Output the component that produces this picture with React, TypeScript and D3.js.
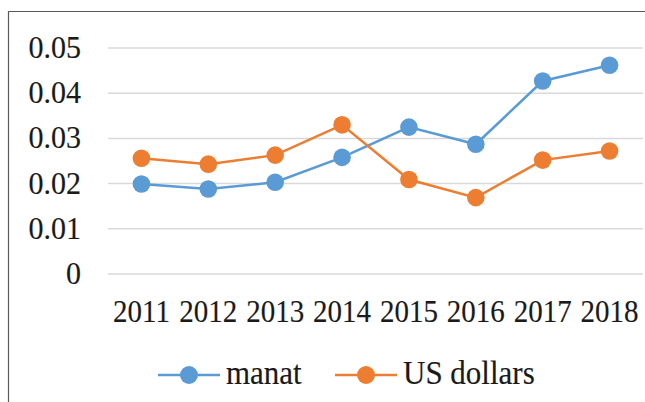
import React from 'react';
import * as d3 from 'd3';

const years = ['2011', '2012', '2013', '2014', '2015', '2016', '2017', '2018'];
const manat = [0.0199, 0.0188, 0.0203, 0.0258, 0.0325, 0.0287, 0.0427, 0.0462];
const usDollars = [0.0256, 0.0243, 0.0263, 0.033, 0.0209, 0.0169, 0.0252, 0.0272];
const yTicks = [0, 0.01, 0.02, 0.03, 0.04, 0.05];
const seriesNames = ['manat', 'US dollars'];

const width = 645;
const height = 402;
const plot = { left: 108, right: 643, top: 48, bottom: 274 };
const colors = ['#5B9BD5', '#ED7D31'];
const font = 'Liberation Serif, Times New Roman, serif';

// текст, слегка вытянутый по вертикали, как в оригинале
const Label = ({ x, y, size, anchor = 'start', sy = 1.08, children }: any) => (
  <text
    transform={`translate(${x},${y}) scale(1,${sy})`}
    textAnchor={anchor}
    fontFamily={font}
    fontSize={size}
    fill="#1a1a1a"
    stroke="#1a1a1a"
    strokeWidth={0.15}
  >
    {children}
  </text>
);

const App = () => {
  const x = d3.scaleBand<string>().domain(years).range([plot.left, plot.right]);
  const cx = (d: string) => (x(d) ?? 0) + x.bandwidth() / 2;
  const y = d3.scaleLinear().domain([0, 0.05]).range([plot.bottom, plot.top]);

  const line = d3
    .line<number>()
    .x((_, i) => cx(years[i]))
    .y(d => y(d));

  const series = [manat, usDollars];

  // легенда
  const legendItems = [
    { x0: 158, tx: 226 },
    { x0: 335, tx: 403 },
  ];

  return (
    <svg
      width={width}
      height={height}
      style={{ position: 'absolute', left: 0, top: 0, background: '#fff' }}
    >
      {/* рамка */}
      <line x1={8.5} y1={11} x2={8.5} y2={height} stroke="#595959" strokeWidth={1.2} />
      <line x1={8} y1={11.5} x2={width} y2={11.5} stroke="#595959" strokeWidth={1.2} />

      {yTicks.map(t => (
        <g key={t}>
          <line x1={plot.left} x2={plot.right} y1={y(t)} y2={y(t)} stroke="#D9D9D9" strokeWidth={1.5} />
          <Label x={81} y={y(t) + 10} size={30} anchor="end" sy={1.06}>
            {t === 0 ? '0' : t.toFixed(2)}
          </Label>
        </g>
      ))}

      {years.map(yr => (
        <Label key={yr} x={cx(yr)} y={322} size={29} anchor="middle" sy={1.1}>
          {yr}
        </Label>
      ))}

      {series.map((s, i) => (
        <g key={i}>
          <path d={line(s) ?? ''} fill="none" stroke={colors[i]} strokeWidth={2.5} />
          {s.map((v, j) => (
            <circle key={j} cx={cx(years[j])} cy={y(v)} r={8.8} fill={colors[i]} />
          ))}
        </g>
      ))}

      {legendItems.map((it, i) => (
        <g key={i}>
          <line x1={it.x0} x2={it.x0 + 62} y1={375} y2={375} stroke={colors[i]} strokeWidth={2.5} />
          <circle cx={it.x0 + 31} cy={375} r={9} fill={colors[i]} />
          <Label x={it.tx} y={384} size={31} sy={1.06}>
            {seriesNames[i]}
          </Label>
        </g>
      ))}
    </svg>
  );
};

export default App;
